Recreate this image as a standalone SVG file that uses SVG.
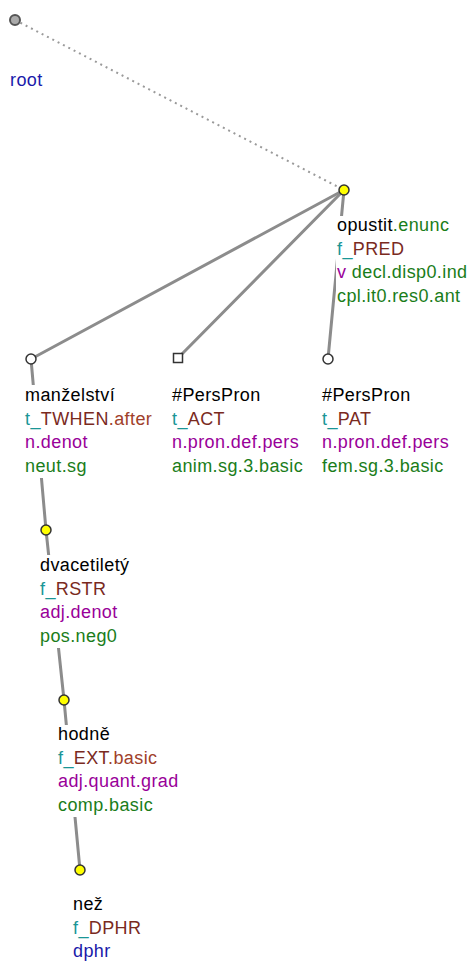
<svg xmlns="http://www.w3.org/2000/svg" width="475" height="963" viewBox="0 0 475 963">
<style>
text{font-family:"Liberation Sans",Arial,sans-serif;font-size:18px;letter-spacing:0.4px}
.k{fill:#000}
.tl{fill:#1a9696}
.fn{fill:#7a2a1e}
.sf{fill:#a0402a}
.pu{fill:#990099}
.gr{fill:#1a7d1a}
.bl{fill:#1a1aaa}
.bg{fill:#fff}
.e{stroke:#8c8c8c;stroke-width:3;fill:none;stroke-linecap:round}
.d{stroke:#9a9a9a;stroke-width:2;stroke-dasharray:2 4;fill:none}
.y{fill:#ffff00;stroke:#333;stroke-width:1.5}
.w{fill:#fff;stroke:#333;stroke-width:1.5}
</style>
<rect width="475" height="963" fill="#fff"/>
<g id="edges">
<line class="d" x1="15" y1="20" x2="344" y2="190"/>
<line class="e" x1="344" y1="190" x2="31" y2="359"/>
<line class="e" x1="344" y1="190" x2="178" y2="358"/>
<line class="e" x1="344" y1="190" x2="328" y2="359"/>
<line class="e" x1="31" y1="359" x2="46" y2="530"/>
<line class="e" x1="46" y1="530" x2="64" y2="700"/>
<line class="e" x1="64" y1="700" x2="80" y2="870"/>
</g>
<g id="root">
<circle cx="15" cy="20" r="5" fill="#aaa" stroke="#555" stroke-width="2"/>
<text x="10" y="86" class="bl">root</text>
</g>
<g id="opustit">
<circle cx="344" cy="190" r="5" class="y"/>
<rect class="bg" x="336" y="216" width="134" height="92"/>
<text x="337" y="231"><tspan class="k">opustit</tspan><tspan class="gr">.enunc</tspan></text>
<text x="337" y="254.5"><tspan class="tl">f_</tspan><tspan class="fn">PRED</tspan></text>
<text x="337" y="278"><tspan class="pu">v</tspan><tspan class="gr"> decl.disp0.ind</tspan></text>
<text x="337" y="301.5" class="gr">cpl.it0.res0.ant</text>
</g>
<g id="manzelstvi">
<circle cx="31" cy="359" r="5" class="w"/>
<rect class="bg" x="24" y="385" width="134" height="93"/>
<text x="25" y="401" class="k">manželství</text>
<text x="25" y="424.5"><tspan class="tl">t_</tspan><tspan class="fn">TWHEN</tspan><tspan class="sf">.after</tspan></text>
<text x="25" y="448" class="pu">n.denot</text>
<text x="25" y="471.5" class="gr">neut.sg</text>
</g>
<g id="perspron_act">
<rect x="173.5" y="353.5" width="9" height="9" class="w"/>
<text x="172" y="401" class="k">#PersPron</text>
<text x="172" y="424.5"><tspan class="tl">t_</tspan><tspan class="fn">ACT</tspan></text>
<text x="172" y="448" class="pu">n.pron.def.pers</text>
<text x="172" y="471.5" class="gr">anim.sg.3.basic</text>
</g>
<g id="perspron_pat">
<circle cx="328" cy="359" r="5" class="w"/>
<text x="322" y="401" class="k">#PersPron</text>
<text x="322" y="424.5"><tspan class="tl">t_</tspan><tspan class="fn">PAT</tspan></text>
<text x="322" y="448" class="pu">n.pron.def.pers</text>
<text x="322" y="471.5" class="gr">fem.sg.3.basic</text>
</g>
<g id="dvacetilety">
<circle cx="46" cy="530" r="5" class="y"/>
<rect class="bg" x="39" y="555" width="100" height="93"/>
<text x="40" y="571" class="k">dvacetiletý</text>
<text x="40" y="594.5"><tspan class="tl">f_</tspan><tspan class="fn">RSTR</tspan></text>
<text x="40" y="618" class="pu">adj.denot</text>
<text x="40" y="641.5" class="gr">pos.neg0</text>
</g>
<g id="hodne">
<circle cx="64" cy="700" r="5" class="y"/>
<rect class="bg" x="57" y="725" width="126" height="92"/>
<text x="58" y="740" class="k">hodně</text>
<text x="58" y="763.5"><tspan class="tl">f_</tspan><tspan class="fn">EXT</tspan><tspan class="sf">.basic</tspan></text>
<text x="58" y="787" class="pu">adj.quant.grad</text>
<text x="58" y="810.5" class="gr">comp.basic</text>
</g>
<g id="nez">
<circle cx="80" cy="870" r="5" class="y"/>
<text x="73" y="910" class="k">než</text>
<text x="73" y="933.5"><tspan class="tl">f_</tspan><tspan class="fn">DPHR</tspan></text>
<text x="73" y="957" class="bl">dphr</text>
</g>
</svg>
